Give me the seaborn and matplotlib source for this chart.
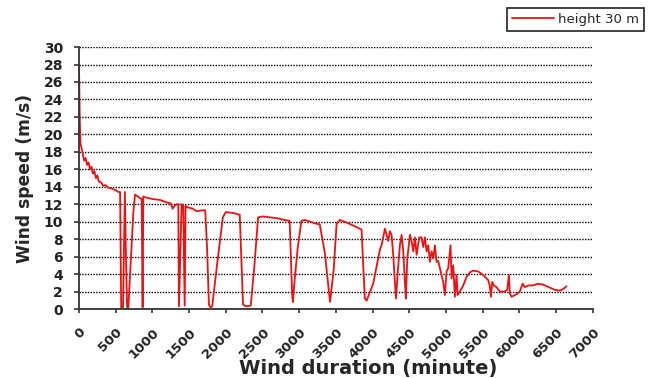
import matplotlib
matplotlib.use("Agg")
import matplotlib.pyplot as plt
import matplotlib.transforms as mtransforms
import seaborn as sns
import pandas as pd

# Wind duration (minute) and wind speed (m/s)
duration = [0, 10, 20, 30, 50, 70, 90, 110, 130, 150, 170, 190, 210, 230, 250, 270,
            300, 330, 360, 400, 450, 500, 540, 560, 575, 600, 625, 640, 655, 672,
            704, 740, 763, 800, 831, 854, 867, 876, 900, 1000, 1100, 1200, 1250,
            1275, 1300, 1330, 1353, 1362, 1398, 1420, 1440, 1452, 1470, 1500, 1550,
            1600, 1680, 1720, 1745, 1770, 1790, 1815, 1880, 1960, 2000, 2100, 2190,
            2235, 2280, 2340, 2390, 2440, 2500, 2600, 2700, 2800, 2870, 2905, 2915,
            2930, 2980, 3030, 3080, 3150, 3220, 3280, 3350, 3420, 3470, 3510, 3555,
            3650, 3750, 3850, 3873, 3895, 3918, 4008, 4100, 4122, 4168, 4190, 4213,
            4236, 4259, 4281, 4304, 4318, 4350, 4372, 4395, 4418, 4440, 4454, 4472,
            4509, 4531, 4554, 4577, 4600, 4635, 4667, 4690, 4713, 4736, 4758, 4781,
            4804, 4827, 4849, 4872, 4894, 4917, 4940, 4962, 4985, 5008, 5031, 5062,
            5076, 5099, 5121, 5144, 5158, 5190, 5235, 5281, 5326, 5371, 5440, 5508,
            5576, 5598, 5612, 5630, 5653, 5689, 5734, 5802, 5834, 5857, 5870, 5893,
            5962, 6006, 6043, 6075, 6120, 6188, 6250, 6320, 6400, 6483, 6551, 6597,
            6642]
speed = [28.0, 22.0, 19.0, 18.6, 17.8, 17.0, 17.3, 16.5, 16.8, 16.0, 16.3, 15.5, 15.8,
         15.0, 15.3, 14.6, 14.5, 14.1, 14.2, 13.9, 13.8, 13.6, 13.4, 13.4, 0.1, 0.2,
         13.4, 6.0, 0.2, 0.1, 5.2, 11.0, 13.1, 12.9, 12.7, 12.6, 0.2, 12.9, 12.8,
         12.6, 12.5, 12.2, 12.1, 11.5, 11.8, 12.0, 12.0, 0.3, 12.0, 11.9, 0.4, 11.8,
         11.7, 11.6, 11.5, 11.2, 11.3, 11.3, 7.0, 0.5, 0.2, 0.3, 5.0, 10.5, 11.1,
         11.0, 10.8, 0.5, 0.3, 0.4, 5.0, 10.5, 10.6, 10.5, 10.4, 10.2, 10.1, 1.5,
         0.8, 2.6, 7.0, 10.1, 10.2, 10.0, 9.8, 9.7, 6.4, 0.8, 4.5, 9.8, 10.2, 9.9,
         9.5, 9.1, 4.9, 1.2, 0.95, 2.9, 6.8, 7.3, 9.2, 8.5, 7.8, 8.9, 8.5, 6.2, 3.1,
         1.2, 5.0, 7.3, 8.5, 6.6, 3.1, 1.2, 5.7, 8.5, 7.8, 6.6, 8.2, 6.2, 8.2, 8.2,
         7.1, 8.2, 6.6, 7.3, 5.4, 6.6, 5.8, 7.3, 5.4, 5.5, 4.7, 3.9, 3.1, 1.6, 4.3,
         4.7, 7.3, 3.5, 5.0, 1.4, 3.9, 1.6, 2.0, 2.7, 3.7, 4.2, 4.4, 4.3, 3.9, 3.3,
         2.6, 1.4, 3.1, 2.7, 2.5, 2.0, 2.0, 2.2, 3.9, 1.8, 1.4, 1.7, 2.0, 2.9, 2.5,
         2.7, 2.7, 2.9, 2.8, 2.5, 2.2, 2.1, 2.3, 2.6]
series_label = "height 30 m"
x_ticks = list(range(0, 7001, 500))
y_ticks = list(range(0, 31, 2))

df = pd.DataFrame({"duration": duration, "speed": speed, "series": series_label})

sns.set_style("white")
plt.rcParams["font.family"] = ["DejaVu Sans"]

fig = plt.figure(figsize=(6.55, 3.78), dpi=100)
ax = fig.add_axes([0.1206, 0.1825, 0.7844, 0.693])

sns.lineplot(data=df, x="duration", y="speed", hue="series", palette=["#ee1111"],
             linewidth=1.3, ax=ax, sort=False, estimator=None, legend=True)

ax.set_xlim(0, 7000)
ax.set_ylim(0, 30)
ax.set_xticks(x_ticks)
ax.set_yticks(y_ticks)
ax.set_xticklabels([str(t) for t in x_ticks], rotation=45, ha="right", va="top",
                   rotation_mode="anchor", fontsize=9.5, fontweight="bold", color="#222222")
ax.set_yticklabels([str(t) for t in y_ticks], fontsize=10, fontweight="bold", color="#222222")
offset = mtransforms.ScaledTranslation(4 / 100, 0, fig.dpi_scale_trans)
for lab in ax.get_xticklabels():
    lab.set_transform(lab.get_transform() + offset)

ax.yaxis.grid(True, color="black", linestyle=(0, (1, 1)), linewidth=1.0)
ax.xaxis.grid(False)
for s in ["top", "right"]:
    ax.spines[s].set_visible(False)
for s in ["left", "bottom"]:
    ax.spines[s].set_color("#333333")
    ax.spines[s].set_linewidth(1.3)
ax.tick_params(axis="x", direction="out", length=3, width=1.2, color="#333333",
               bottom=True, pad=9)
ax.tick_params(axis="y", direction="out", length=3.5, width=1.2, color="#333333",
               left=True, pad=8)

ax.set_xlabel("Wind duration (minute)", fontsize=14, fontweight="bold")
ax.xaxis.set_label_coords(0.562, -0.192)
ax.set_ylabel("Wind speed (m/s)", fontsize=12.3, fontweight="bold", labelpad=7)

handles, labels = ax.get_legend_handles_labels()
ax.legend(handles, labels, loc="upper right", bbox_to_anchor=(0.993, 0.995),
          bbox_transform=fig.transFigure, frameon=True, fancybox=False,
          edgecolor="black", fontsize=9.5, handlelength=3.2, borderpad=0.35,
          handletextpad=0.3)
ax.get_legend().get_frame().set_linewidth(1.3)

fig.savefig("out.png", dpi=100)
